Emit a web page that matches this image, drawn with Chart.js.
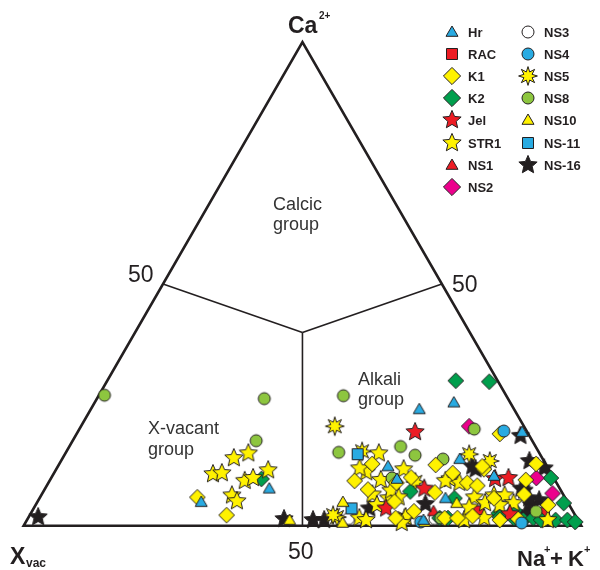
<!DOCTYPE html>
<html>
<head>
<meta charset="utf-8">
<script src="https://cdn.jsdelivr.net/npm/chart.js@4.4.0/dist/chart.umd.min.js"></script>
<style>
  html, body { margin: 0; padding: 0; background: #fff; }
  canvas { display: block; }
</style>
</head>
<body>
<canvas id="ternary" width="600" height="570"></canvas>
<script>
// Each sample: [Ca, Na+K] in percent, X-site vacancy is the remainder
const hr = [[7.7,40.2],[4.9,29.4],[24.1,58.9],[25.5,64.4],[19.4,79.7],[12.3,59.2],[1.2,71.1],[13.8,71.3],[5.7,72.8],[10.3,79.2],[9.7,62.1]];
const rac = [[3.0,80.0],[2.6,92.0]];
const k1 = [[5.9,28.2],[2.2,35.3],[19.0,75.9],[12.8,56.1],[9.3,54.7],[8.9,62.4],[6.9,70.3],[1.6,65.9],[12.6,67.6],[11.7,76.7],[8.9,75.1],[8.3,77.2],[5.7,81.5],[12.8,85.5],[9.5,85.3],[4.3,91.9],[1.6,74.7],[1.6,77.0],[12.3,76.1],[1.2,84.8],[10.9,71.5],[3.0,68.5],[2.0,79.5],[6.5,86.5],[1.4,88.0],[10.0,64.5],[7.5,58.0],[5.0,64.0]];
const k2 = [[9.7,37.8],[30.0,62.5],[29.8,68.6],[7.1,65.8],[5.7,74.4],[9.9,89.6],[4.7,94.5],[1.6,87.1],[1.2,89.0],[1.6,90.6],[1.2,92.2],[1.2,94.8],[1.2,96.9],[0.8,98.5],[2.6,83.9],[3.2,86.4],[1.6,75.3],[1.8,84.5],[1.6,73.8]];
const jel = [[19.4,60.5],[7.7,68.0],[3.6,63.2],[9.7,79.7],[9.9,82.0],[2.4,86.0]];
const str1 = [[15.0,32.8],[14.0,30.7],[10.7,28.6],[10.9,30.1],[9.3,35.0],[9.9,36.2],[11.5,38.1],[6.3,34.2],[5.1,35.7],
  [15.0,56.2],[11.1,55.9],[11.9,54.3],[9.5,59.3],[11.7,62.3],[6.5,59.3],[5.7,62.6],[4.3,61.2],[5.9,64.3],[7.3,62.2],[1.6,59.4],[1.2,60.8],
  [9.7,71.6],[8.9,73.7],[5.9,77.9],[4.7,80.4],[1.8,67.6],[0.6,67.5],[1.2,78.4],[1.6,81.8],[1.2,93.4],[6.3,81.2],[6.3,83.1],[4.7,85.5],[4.3,83.2],[3.8,78.0],[9.3,71.0]];
const ns1 = [[3.0,72.0],[2.0,90.0]];
const ns2 = [[20.6,69.6],[6.7,91.5],[9.9,87.0]];
const ns3 = [[1.5,57.5],[1.5,73.0]];
const ns4 = [[19.6,76.3],[0.8,70.8],[0.6,89.0]];
const ns5 = [[20.6,45.5],[15.4,53.0],[9.1,65.7],[1.8,55.3],[2.2,54.4],[1.6,67.5],[14.8,72.5],[13.4,76.9]];
const ns8 = [[27.0,1.0],[26.3,30.0],[17.6,32.9],[26.9,43.9],[20.0,70.8],[15.2,48.9],[16.4,59.4],[14.6,62.9],[9.9,61.1],[13.8,68.3],[3.0,90.4],[1.6,74.0]];
const ns10 = [[1.2,47.1],[4.9,54.8],[0.6,56.9],[4.7,75.3],[0.8,71.5]];
const ns11 = [[14.8,52.5],[3.6,57.0]];
const ns16 = [[1.8,1.7],[1.4,46.0],[1.2,51.3],[1.2,53.3],[3.6,60.2],[4.5,69.8],[18.6,79.8],[11.7,75.2],[13.4,84.0],[11.9,87.4],[7.3,86.1],[5.3,89.8],[4.3,88.9],[2.6,88.8],[12.3,74.3],[7.7,85.4],[5.7,87.8]];

// triangle frame and group boundaries, same [Ca, Na+K] form
const frame = [[0,0],[0,100],[100,0],[0,0],[0,100]];
const bounds = [
  [[50,0],[40,30]],
  [[50,50],[40,30]],
  [[0,50],[40,30]]
];

const INK = '#231f20';
const FONT = '"Liberation Sans", Arial, Helvetica, sans-serif';

function toXY(p) {
  return { x: (p[1] + p[0] / 2) / 100, y: p[0] / 100 };
}

function spikes(g, n, R, r) {
  for (let i = 0; i < n * 2; i++) {
    const a = -Math.PI / 2 + i * Math.PI / n;
    const rr = i % 2 === 0 ? R : r;
    if (i === 0) g.moveTo(rr * Math.cos(a), rr * Math.sin(a));
    else g.lineTo(rr * Math.cos(a), rr * Math.sin(a));
  }
  g.closePath();
}

function sprite(shape, fill, k) {
  const c = document.createElement('canvas');
  const s = 26;
  c.width = s; c.height = s;
  const g = c.getContext('2d');
  g.translate(s / 2, s / 2);
  g.scale(k, k);
  g.beginPath();
  if (shape === 'circle') {
    g.arc(0, 0, 6, 0, Math.PI * 2);
  } else if (shape === 'square') {
    g.rect(-5.5, -5.5, 11, 11);
  } else if (shape === 'diamond') {
    g.moveTo(0, -7.8); g.lineTo(7.8, 0); g.lineTo(0, 7.8); g.lineTo(-7.8, 0); g.closePath();
  } else if (shape === 'triangle') {
    g.moveTo(0, -6); g.lineTo(6, 4.3); g.lineTo(-6, 4.3); g.closePath();
  } else if (shape === 'star') {
    spikes(g, 5, 9.6, 4.4);
  } else if (shape === 'burst') {
    spikes(g, 8, 9.4, 4.4);
  }
  g.fillStyle = fill;
  g.fill();
  g.lineWidth = 1 / k;
  g.lineJoin = 'miter';
  g.strokeStyle = INK;
  g.stroke();
  return c;
}

const BLUE = '#29abe2', RED = '#ed1c24', YELLOW = '#fff200', GREEN = '#009f4d',
      PINK = '#ec008c', LIME = '#8dc63f', WHITE = '#ffffff', BLACK = '#231f20';

// name, data, marker, colour, legend column, legend row (first drawn on top)
const series = [
  ['Hr', hr, 'triangle', BLUE, 0, 0],
  ['NS10', ns10, 'triangle', YELLOW, 1, 4],
  ['NS-11', ns11, 'square', BLUE, 1, 5],
  ['NS4', ns4, 'circle', BLUE, 1, 1],
  ['K1', k1, 'diamond', YELLOW, 0, 2],
  ['NS8', ns8, 'circle', LIME, 1, 3],
  ['NS2', ns2, 'diamond', PINK, 0, 7],
  ['Jel', jel, 'star', RED, 0, 4],
  ['STR1', str1, 'star', YELLOW, 0, 5],
  ['K2', k2, 'diamond', GREEN, 0, 3],
  ['NS5', ns5, 'burst', YELLOW, 1, 2],
  ['NS-16', ns16, 'star', BLACK, 1, 6],
  ['NS1', ns1, 'triangle', RED, 0, 6],
  ['RAC', rac, 'square', RED, 0, 1],
  ['NS3', ns3, 'circle', WHITE, 1, 0]
];

const sprites = series.map(s => sprite(s[2], s[3], 1));
const keySprites = series.map(s => sprite(s[2], s[3], s[2] === 'diamond' ? 1.1 : 1));

const datasets = series.map((s, i) => ({
  label: s[0],
  data: s[1].map(toXY),
  pointStyle: sprites[i],
  pointRadius: 5,
  showLine: false,
  clip: false,
  order: 0
}));

function lineSet(points, width) {
  return {
    label: '',
    data: points.map(toXY),
    showLine: true,
    borderColor: INK,
    borderWidth: width,
    borderJoinStyle: 'miter',
    borderCapStyle: 'butt',
    pointRadius: 0,
    fill: false,
    clip: false,
    order: 100
  };
}
datasets.push(lineSet(frame, 2.6));
bounds.forEach(b => datasets.push(lineSet(b, 1.6)));

const rowY = [32, 54, 76, 98, 120, 143, 165, 187];
const colX = [[452, 468], [528, 544]];

function text(ctx, str, x, y, size, bold, base) {
  ctx.font = (bold ? 'bold ' : '') + size + 'px ' + FONT;
  ctx.textBaseline = base || 'alphabetic';
  ctx.fillText(str, x, y);
}

const labelsPlugin = {
  id: 'labels',
  afterDraw(chart) {
    const ctx = chart.ctx;
    ctx.save();
    ctx.fillStyle = INK;
    ctx.textAlign = 'left';

    // corner labels
    text(ctx, 'Ca', 288, 33, 23, true);
    text(ctx, '2+', 319, 19, 10, true);
    text(ctx, 'X', 10, 564, 23, true);
    text(ctx, 'vac', 26, 567, 12, true);
    text(ctx, 'Na', 517, 566, 22, true);
    text(ctx, '+', 544, 553, 11, true);
    text(ctx, '+', 550, 566, 22, true);
    text(ctx, 'K', 568, 566, 22, true);
    text(ctx, '+', 584, 553, 11, true);

    // 50 % marks
    text(ctx, '50', 128, 276, 23, false, 'middle');
    text(ctx, '50', 452, 286, 23, false, 'middle');
    text(ctx, '50', 288, 553, 23, false, 'middle');

    // group names
    ctx.fillStyle = '#333';
    text(ctx, 'Calcic', 273, 205, 18, false, 'middle');
    text(ctx, 'group', 273, 225, 18, false, 'middle');
    text(ctx, 'X-vacant', 148, 429, 18, false, 'middle');
    text(ctx, 'group', 148, 450, 18, false, 'middle');
    text(ctx, 'Alkali', 358, 380, 18, false, 'middle');
    text(ctx, 'group', 358, 400, 18, false, 'middle');

    // legend
    ctx.fillStyle = INK;
    series.forEach((s, i) => {
      const img = keySprites[i];
      const cx = colX[s[4]];
      const y = rowY[s[5]];
      ctx.drawImage(img, cx[0] - img.width / 2, y - img.height / 2);
      text(ctx, s[0], cx[1], y + 1, 13, true, 'middle');
    });
    ctx.restore();
  }
};

new Chart(document.getElementById('ternary'), {
  type: 'scatter',
  data: { datasets: datasets },
  options: {
    responsive: false,
    animation: false,
    events: [],
    layout: { padding: 0 },
    plugins: {
      legend: { display: false },
      tooltip: { enabled: false },
      title: { display: false }
    },
    scales: {
      x: { type: 'linear', min: -18 / 569, max: 582 / 569, display: false },
      y: { type: 'linear', min: -39 / 494, max: 531 / 494, display: false }
    }
  },
  plugins: [labelsPlugin]
});
</script>
</body>
</html>
